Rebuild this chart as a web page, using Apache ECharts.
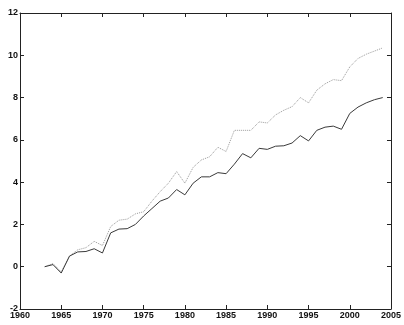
<!DOCTYPE html>
<html>
<head>
<meta charset="utf-8">
<script src="https://cdn.jsdelivr.net/npm/echarts@6/dist/echarts.min.js"></script>
<style>
  html, body { margin: 0; padding: 0; background: #fff; }
  #chart { width: 404px; height: 325px; }
</style>
</head>
<body>
<div id="chart"></div>
<script>
// Annual series, 1963-2004
const years = [1963, 1964, 1965, 1966, 1967, 1968, 1969, 1970, 1971, 1972,
  1973, 1974, 1975, 1976, 1977, 1978, 1979, 1980, 1981, 1982,
  1983, 1984, 1985, 1986, 1987, 1988, 1989, 1990, 1991, 1992,
  1993, 1994, 1995, 1996, 1997, 1998, 1999, 2000, 2001, 2002,
  2003, 2004];

const lowerSeries = [0.0, 0.1, -0.3, 0.5, 0.7, 0.72, 0.85, 0.65, 1.6, 1.78,
  1.8, 2.0, 2.4, 2.75, 3.1, 3.25, 3.65, 3.4, 3.95, 4.25,
  4.25, 4.45, 4.4, 4.85, 5.35, 5.15, 5.6, 5.55, 5.7, 5.72,
  5.85, 6.2, 5.95, 6.45, 6.6, 6.65, 6.5, 7.25, 7.55, 7.75,
  7.9, 8.0];

const upperSeries = [0.0, 0.15, -0.25, 0.5, 0.8, 0.9, 1.2, 1.0, 1.9, 2.2,
  2.25, 2.5, 2.6, 3.1, 3.55, 3.95, 4.5, 3.95, 4.7, 5.05,
  5.2, 5.65, 5.45, 6.45, 6.45, 6.45, 6.85, 6.8, 7.18, 7.4,
  7.57, 8.0, 7.75, 8.35, 8.65, 8.85, 8.8, 9.45, 9.85, 10.05,
  10.2, 10.35];

const xTicks = { min: 1960, max: 2005, step: 5 };
const yTicks = { min: -2, max: 12, step: 2 };

const pairs = (vals) => years.map((y, i) => [y, vals[i]]);

const axisColor = '#222';
const labelFont = { color: '#111', fontSize: 9, fontWeight: 'bold', fontFamily: 'Liberation Sans, Arial, sans-serif' };

const chart = echarts.init(document.getElementById('chart'), null, { renderer: 'canvas' });

chart.setOption({
  animation: false,
  backgroundColor: '#fff',
  grid: { left: 20, right: 6, top: 13, bottom: 16, containLabel: false },
  xAxis: [
    {
      type: 'value', position: 'bottom',
      min: xTicks.min, max: xTicks.max, interval: xTicks.step,
      axisLine: { show: true, onZero: false, lineStyle: { color: axisColor, width: 1 } },
      axisTick: { show: true, inside: true, length: 4, lineStyle: { color: axisColor } },
      axisLabel: Object.assign({ margin: 2, showMinLabel: true, showMaxLabel: true, hideOverlap: false,
        formatter: (v) => String(v) }, labelFont),
      splitLine: { show: false }
    },
    {
      type: 'value', position: 'top',
      min: xTicks.min, max: xTicks.max, interval: xTicks.step,
      axisLine: { show: true, onZero: false, lineStyle: { color: axisColor, width: 1 } },
      axisTick: { show: true, inside: true, length: 4, lineStyle: { color: axisColor } },
      axisLabel: { show: false },
      splitLine: { show: false }
    }
  ],
  yAxis: [
    {
      type: 'value', position: 'left',
      min: yTicks.min, max: yTicks.max, interval: yTicks.step,
      axisLine: { show: true, onZero: false, lineStyle: { color: axisColor, width: 1 } },
      axisTick: { show: true, inside: true, length: 4, lineStyle: { color: axisColor } },
      axisLabel: Object.assign({ margin: 2 }, labelFont),
      splitLine: { show: false }
    },
    {
      type: 'value', position: 'right',
      min: yTicks.min, max: yTicks.max, interval: yTicks.step,
      axisLine: { show: true, onZero: false, lineStyle: { color: axisColor, width: 1 } },
      axisTick: { show: true, inside: true, length: 4, lineStyle: { color: axisColor } },
      axisLabel: { show: false },
      splitLine: { show: false }
    }
  ],
  series: [
    {
      type: 'line', name: 'upper', data: pairs(upperSeries),
      showSymbol: false, symbol: 'none',
      lineStyle: { color: '#9a9a9a', width: 1, type: [1, 1] }
    },
    {
      type: 'line', name: 'lower', data: pairs(lowerSeries),
      showSymbol: false, symbol: 'none',
      lineStyle: { color: '#3a3a3a', width: 1 }
    }
  ]
});
</script>
</body>
</html>
